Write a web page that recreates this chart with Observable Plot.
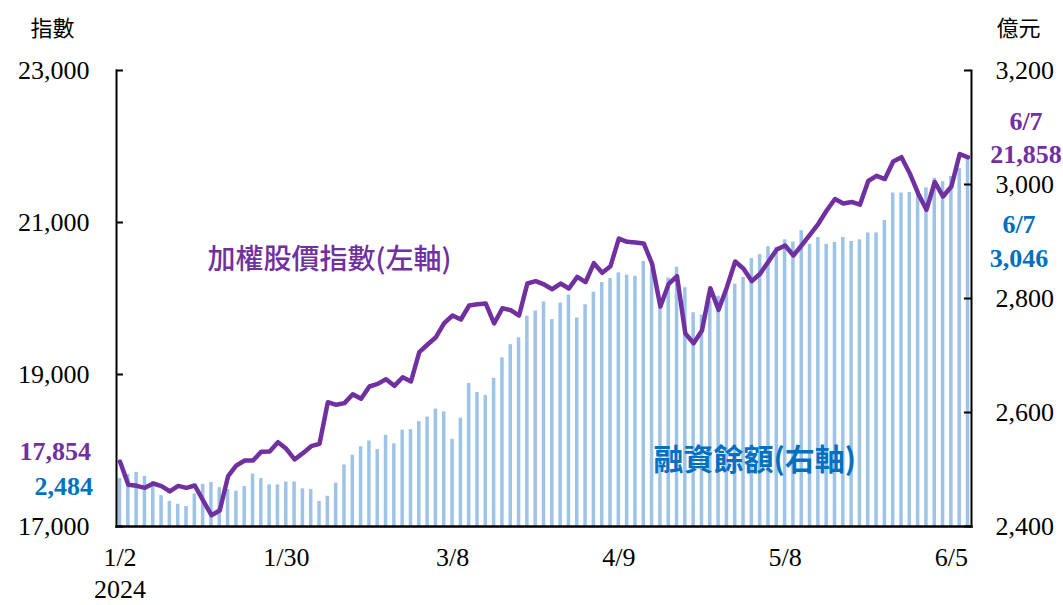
<!DOCTYPE html>
<html><head><meta charset="utf-8">
<script src="https://cdn.jsdelivr.net/npm/d3@7"></script>
<script src="https://cdn.jsdelivr.net/npm/@observablehq/plot@0.6"></script>
<style>
body{margin:0;background:#fff;}
#wrap{position:relative;width:1063px;height:605px;background:#fff;}
#wrap svg{position:absolute;left:0;top:0;}
</style></head><body><div id="wrap"></div>
<script>
const dates = ["1/2","1/3","1/4","1/5","1/8","1/9","1/10","1/11","1/12","1/15","1/16","1/17","1/18","1/19","1/22","1/23","1/24","1/25","1/26","1/29","1/30","1/31","2/1","2/2","2/5","2/15","2/16","2/19","2/20","2/21","2/22","2/23","2/26","2/27","2/29","3/1","3/4","3/5","3/6","3/7","3/8","3/11","3/12","3/13","3/14","3/15","3/18","3/19","3/20","3/21","3/22","3/25","3/26","3/27","3/28","3/29","4/1","4/2","4/3","4/8","4/9","4/10","4/11","4/12","4/15","4/16","4/17","4/18","4/19","4/22","4/23","4/24","4/25","4/26","4/29","4/30","5/2","5/3","5/6","5/7","5/8","5/9","5/10","5/13","5/14","5/15","5/16","5/17","5/20","5/21","5/22","5/23","5/24","5/27","5/28","5/29","5/30","5/31","6/3","6/4","6/5","6/6","6/7"];

// 加權股價指數 (left axis)
const taiex = [17854,17548,17535,17509,17566,17531,17461,17535,17509,17539,
17342,17149,17211,17662,17803,17868,17868,17985,17987,18109,
18022,17882,17965,18057,18088,18636,18601,18623,18741,18680,
18842,18877,18938,18851,18964,18908,19294,19395,19491,19675,
19776,19724,19908,19925,19934,19671,19872,19846,19776,20197,
20228,20185,20122,20197,20132,20285,20215,20465,20338,20425,
20789,20746,20737,20724,20457,19895,20193,20293,19540,19412,
19579,20136,19851,20149,20487,20391,20228,20325,20487,20645,
20697,20566,20701,20842,20983,21158,21309,21250,21270,21234,
21546,21614,21572,21803,21859,21645,21382,21167,21533,21342,
21474,21901,21858];

// 融資餘額 億元 (right axis)
const marginBal = [2484,2491,2495,2488,2479,2454,2444,2439,2435,2457,
2474,2477,2468,2465,2462,2470,2492,2484,2473,2473,
2478,2478,2466,2465,2444,2453,2476,2508,2525,2540,
2550,2535,2560,2545,2569,2570,2584,2592,2606,2601,
2553,2590,2651,2635,2630,2660,2696,2719,2731,2769,
2778,2794,2763,2792,2806,2766,2789,2811,2828,2835,
2845,2841,2839,2865,2852,2785,2836,2855,2819,2775,
2771,2795,2804,2814,2825,2837,2870,2877,2891,2890,
2903,2899,2919,2895,2907,2895,2898,2907,2900,2903,
2915,2915,2937,2985,2985,2986,2989,2994,3011,3005,
3014,3028,3046];

const leftTicks = [17000,19000,21000,23000];
const rightTicks = [2400,2600,2800,3000,3200];
const xTickDates = ["1/2","1/30","3/8","4/9","5/8","6/5"];
const yearLabel = "2024";
const leftUnit = "指數";
const rightUnit = "億元";
const lineLabel = "加權股價指數(左軸)";
const barLabel = "融資餘額(右軸)";

const rows = dates.map((d,i)=>({date:d, taiex:taiex[i], margin:marginBal[i]}));
const first = rows[0], last = rows[rows.length-1];
const fmt = d3.format(",");

const W=1063, H=605;
const M = {marginTop:70, marginRight:92, marginBottom:79, marginLeft:116};
const frameW = W - M.marginLeft - M.marginRight;
const serif = "'Liberation Serif','Times New Roman',serif";
const cjk = "'Noto Sans CJK TC','Noto Sans CJK SC',sans-serif";
const purple = "#7030A0", blue = "#0070C0", barFill = "#9DC3E6";
const xScale = {type:"band", domain:dates, paddingInner:0.58, paddingOuter:0.21};

function note(str, x, y, opts) {
  return Plot.text([str], {text:d=>d, frameAnchor:"top-left", dx:x-M.marginLeft, dy:y-M.marginTop, lineAnchor:"middle", ...opts});
}

const back = Plot.plot({
  width:W, height:H, ...M,
  x:{...xScale, axis:null},
  y:{domain:[rightTicks[0], rightTicks[rightTicks.length-1]], axis:null},
  style:`background:white;font-family:${serif};font-size:26px;color:#000;overflow:visible;`,
  marks:[
    Plot.barY(rows, {x:"date", y1:rightTicks[0], y2:"margin", fill:barFill}),
    Plot.ruleY(rightTicks, {y:d=>d, insetLeft:frameW-7, stroke:"#000", strokeWidth:2}),
    Plot.axisY(rightTicks, {anchor:"right", label:null, tickSize:0, tickPadding:24, tickFormat:fmt, fontSize:26, fill:"#000"}),
    Plot.text([first], {x:"date", y:"margin", text:d=>fmt(d.margin), textAnchor:"end", dx:-27, dy:8, fill:blue, fontWeight:"bold", fontSize:26, fontFamily:serif}),
    Plot.text([last], {x:"date", y:"margin", text:d=>`${d.date}\n${fmt(d.margin)}`, textAnchor:"middle", dx:51, dy:81, lineHeight:1.3, fill:blue, fontWeight:"bold", fontSize:26, fontFamily:serif})
  ]
});

const front = Plot.plot({
  width:W, height:H, ...M,
  x:xScale,
  y:{domain:[leftTicks[0], leftTicks[leftTicks.length-1]]},
  style:`background:transparent;font-family:${serif};font-size:26px;color:#000;overflow:visible;`,
  marks:[
    Plot.frame({anchor:"left", stroke:"#000", strokeWidth:2}),
    Plot.frame({anchor:"right", stroke:"#000", strokeWidth:2}),
    Plot.frame({anchor:"bottom", stroke:"#000", strokeWidth:2.5}),
    Plot.ruleY(leftTicks, {y:d=>d, insetRight:frameW-7, stroke:"#000", strokeWidth:2}),
    Plot.axisY(leftTicks, {anchor:"left", label:null, tickSize:0, tickPadding:27, tickFormat:fmt, fontSize:26, fill:"#000"}),
    Plot.axisX(xTickDates, {anchor:"bottom", label:null, tickSize:0, tickPadding:16, fontSize:26, fill:"#000", lineHeight:1.25,
      tickFormat:d=> d===dates[0] ? `${d}\n${yearLabel}` : d}),
    Plot.lineY(rows, {x:"date", y:"taiex", stroke:purple, strokeWidth:4.5, strokeLinejoin:"round"}),
    Plot.text([first], {x:"date", y:"taiex", text:d=>fmt(d.taiex), textAnchor:"end", dx:-29, dy:-10, fill:purple, fontWeight:"bold", fontSize:26, fontFamily:serif}),
    Plot.text([last], {x:"date", y:"taiex", text:d=>`${d.date}\n${fmt(d.taiex)}`, textAnchor:"middle", dx:58, dy:-21, lineHeight:1.25, fill:purple, fontWeight:"bold", fontSize:26, fontFamily:serif}),
    note(lineLabel, 207, 260, {textAnchor:"start", fill:purple, fontSize:28, fontFamily:cjk, fontWeight:500}),
    note(barLabel, 653, 460, {textAnchor:"start", fill:blue, fontSize:30, fontFamily:cjk, fontWeight:"bold"}),
    note(leftUnit, 52, 28, {textAnchor:"middle", fill:"#000", fontSize:22, fontFamily:cjk}),
    note(rightUnit, 1018, 28, {textAnchor:"middle", fill:"#000", fontSize:22, fontFamily:cjk})
  ]
});

const wrap = document.getElementById("wrap");
wrap.appendChild(back);
wrap.appendChild(front);
</script></body></html>
